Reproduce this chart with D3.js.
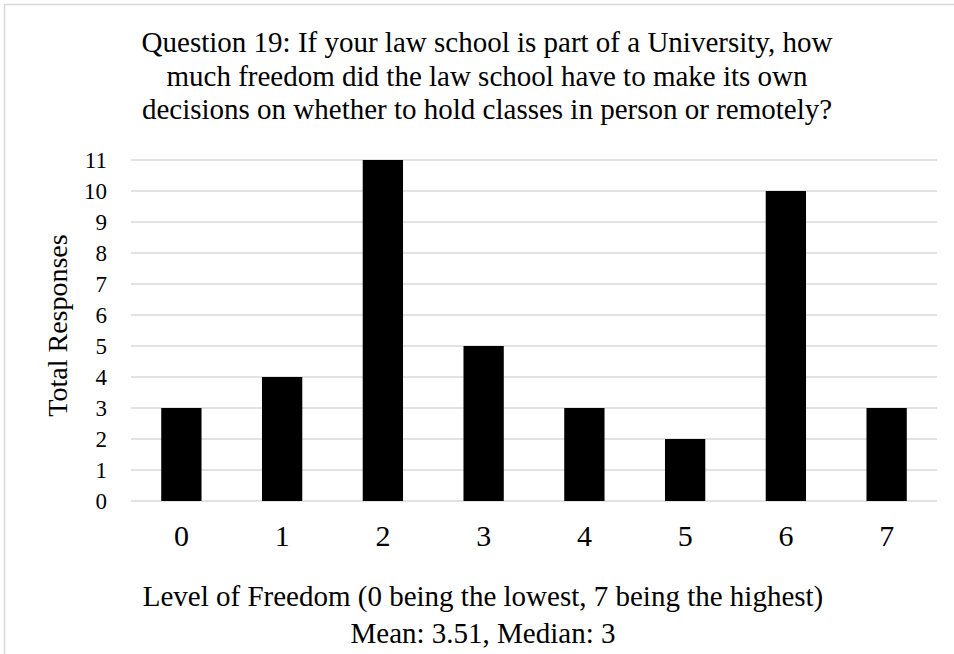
<!DOCTYPE html>
<html>
<head>
<meta charset="utf-8">
<script src="https://cdn.jsdelivr.net/npm/d3@7"></script>
<style>
  html, body { margin: 0; padding: 0; background: #fff; }
  svg { display: block; }
</style>
</head>
<body>
<svg id="chart" width="954" height="654"></svg>
<script>
const categories = ["0", "1", "2", "3", "4", "5", "6", "7"];
const responses = [3, 4, 11, 5, 3, 2, 10, 3];
const yTicks = [0, 1, 2, 3, 4, 5, 6, 7, 8, 9, 10, 11];
const titleLines = [
  "Question 19: If your law school is part of a University, how",
  "much freedom did the law school have to make its own",
  "decisions on whether to hold classes in person or remotely?"
];
const yTitle = "Total Responses";
const xTitleLines = [
  "Level of Freedom (0 being the lowest, 7 being the highest)",
  "Mean: 3.51, Median: 3"
];

const FONT = '"Liberation Serif", "Times New Roman", Times, serif';
const svg = d3.select("#chart").style("font-family", FONT);
const W = 954, H = 654;
const margin = { left: 131, right: 17, top: 160, bottom: 153 };

// outer border
svg.append("rect")
  .attr("x", 4.5).attr("y", 4.5)
  .attr("width", W + 20).attr("height", H + 20)
  .attr("fill", "none").attr("stroke", "#d9d9d9").attr("stroke-width", 1.5);

const x = d3.scaleBand()
  .domain(categories)
  .range([margin.left, W - margin.right])
  .paddingInner(0.6).paddingOuter(0.3);

const y = d3.scaleLinear()
  .domain([0, 11])
  .range([H - margin.bottom, margin.top]);

// gridlines
svg.append("g")
  .selectAll("line")
  .data(yTicks)
  .join("line")
  .attr("x1", margin.left).attr("x2", W - margin.right)
  .attr("y1", d => y(d)).attr("y2", d => y(d))
  .attr("stroke", "#d9d9d9").attr("stroke-width", 1.3);

// y axis labels
const yAxis = d3.axisLeft(y).tickValues(yTicks).tickSize(0).tickPadding(0);
const gy = svg.append("g").attr("transform", `translate(${margin.left - 24},0)`).call(yAxis);
gy.select(".domain").remove();
gy.attr("font-family", null).attr("font-size", null);
gy.selectAll("text")
  .style("font-family", FONT)
  .style("font-size", "23px").attr("fill", "#000");

// bars
svg.append("g")
  .selectAll("rect")
  .data(responses)
  .join("rect")
  .attr("x", (d, i) => x(categories[i]))
  .attr("y", d => y(d))
  .attr("width", x.bandwidth())
  .attr("height", d => y(0) - y(d))
  .attr("fill", "#000");

// x axis labels
const xAxis = d3.axisBottom(x).tickSize(0).tickPadding(0);
const gx = svg.append("g").attr("transform", `translate(0,${y(0)})`).call(xAxis);
gx.select(".domain").remove();
gx.attr("font-family", null).attr("font-size", null);
gx.selectAll("text")
  .attr("dy", null)
  .attr("y", 45)
  .style("font-family", FONT)
  .style("font-size", "30px").attr("fill", "#000");

// title
svg.append("g")
  .selectAll("text")
  .data(titleLines)
  .join("text")
  .attr("x", 487).attr("y", (d, i) => 52 + i * 33.5)
  .attr("text-anchor", "middle")
  .style("font-family", FONT)
  .style("font-size", "29px")
  .attr("fill", "#000")
  .text(d => d);

// y title
svg.append("text")
  .attr("transform", `translate(67,${(y(0) + y(11)) / 2 - 5}) rotate(-90)`)
  .attr("text-anchor", "middle")
  .style("font-family", FONT)
  .style("font-size", "28px")
  .attr("fill", "#000")
  .text(yTitle);

// x title
svg.append("g")
  .selectAll("text")
  .data(xTitleLines)
  .join("text")
  .attr("x", 483).attr("y", (d, i) => 606 + i * 37)
  .attr("text-anchor", "middle")
  .style("font-family", FONT)
  .style("font-size", "29px")
  .attr("fill", "#000")
  .text(d => d);
</script>
</body>
</html>
